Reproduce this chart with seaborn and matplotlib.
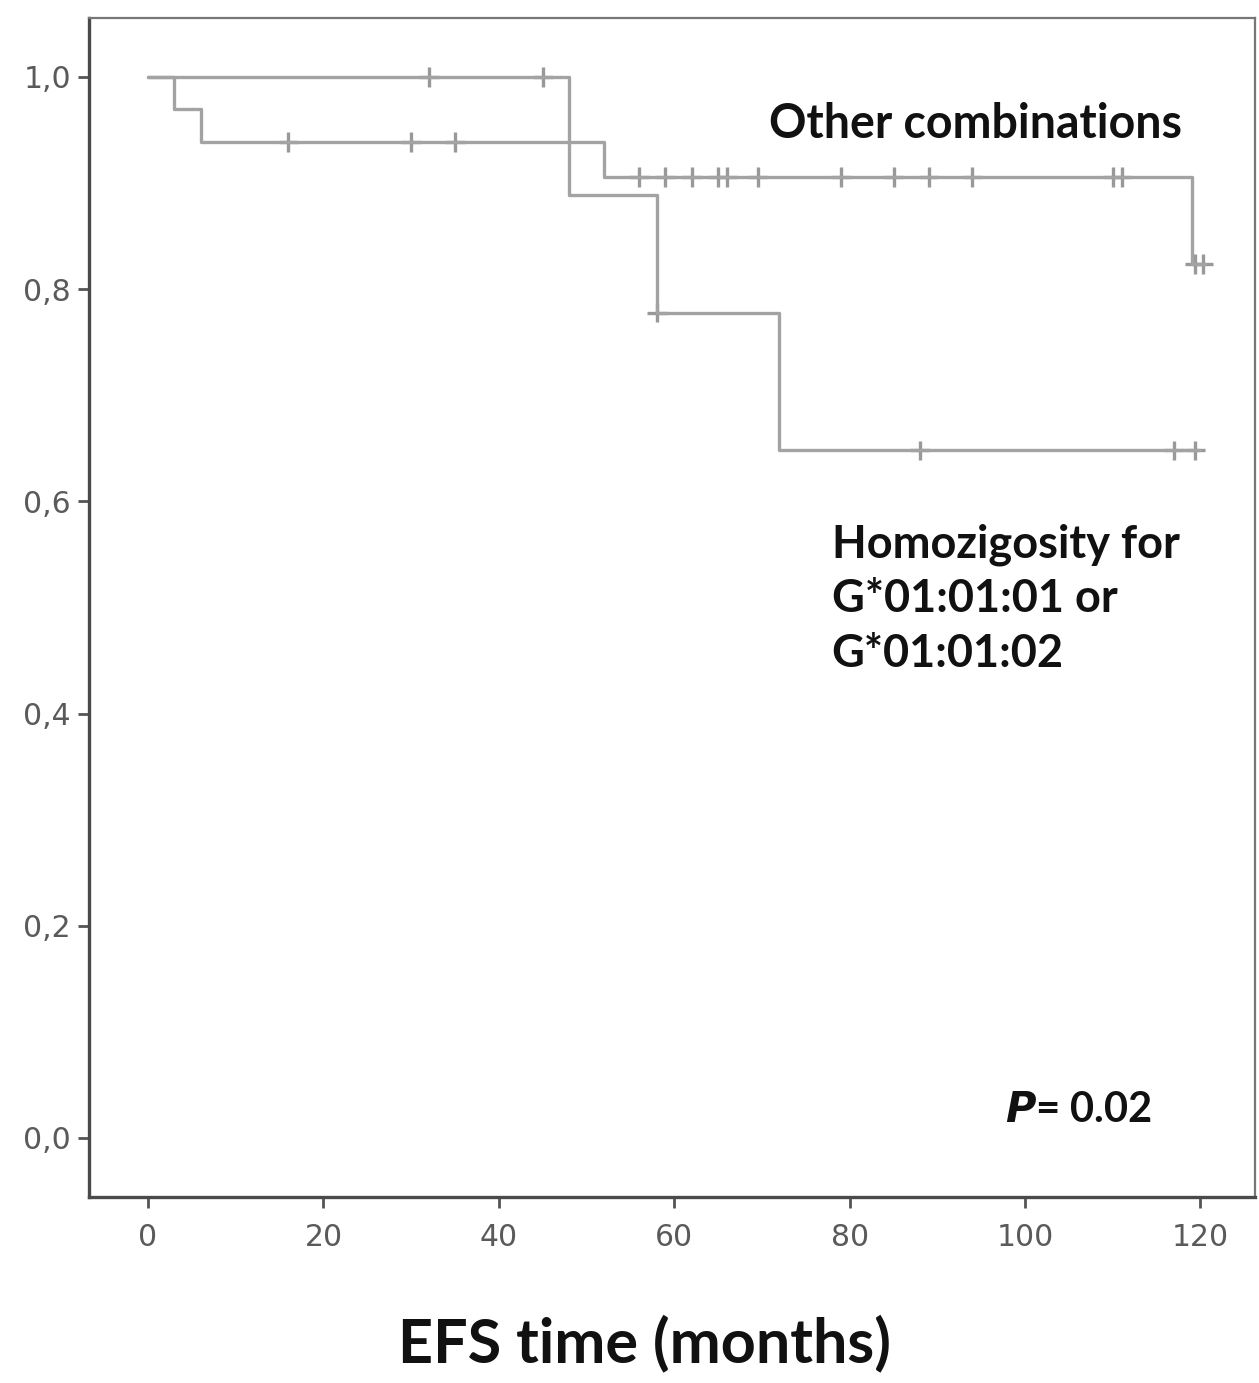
import matplotlib
matplotlib.use("Agg")
import matplotlib.pyplot as plt
import seaborn as sns
import pandas as pd

# ---- data ----
other_time = [0, 3, 6, 52, 119, 120.5]
other_surv = [1.0, 0.970, 0.939, 0.906, 0.824, 0.824]
other_cens_time = [16, 30, 35, 56, 59, 62, 65, 66, 69.5, 79, 85, 89, 94, 110, 111, 119.4, 120.3]
other_cens_surv = [0.939, 0.939, 0.939] + [0.906] * 12 + [0.824, 0.824]

hmz_time = [0, 48, 58, 72, 120]
hmz_surv = [1.0, 0.889, 0.778, 0.648, 0.648]
hmz_cens_time = [32, 45, 58, 88, 117, 119.4]
hmz_cens_surv = [1.0, 1.0, 0.778, 0.648, 0.648, 0.648]

x_ticks = [0, 20, 40, 60, 80, 100, 120]
y_ticks = [0.0, 0.2, 0.4, 0.6, 0.8, 1.0]
y_tick_labels = ["0,0", "0,2", "0,4", "0,6", "0,8", "1,0"]

curves = pd.DataFrame({
    "time": other_time + hmz_time,
    "surv": other_surv + hmz_surv,
    "group": ["Other"] * len(other_time) + ["Homo"] * len(hmz_time),
})
cens = pd.DataFrame({
    "time": other_cens_time + hmz_cens_time,
    "surv": other_cens_surv + hmz_cens_surv,
    "group": ["Other"] * len(other_cens_time) + ["Homo"] * len(hmz_cens_time),
})

sns.set_theme(style="white")
plt.rcParams["font.family"] = ["DejaVu Sans"]

fig = plt.figure(figsize=(12.59, 13.83), dpi=100)
ax = fig.add_axes([0.0707, 0.1345, 0.926, 0.8525])

line_col = "#a3a3a3"
pal = {"Other": line_col, "Homo": line_col}
sns.lineplot(data=curves, x="time", y="surv", hue="group", palette=pal,
             estimator=None, sort=False, drawstyle="steps-post",
             linewidth=2.4, legend=False, ax=ax)
sns.scatterplot(data=cens, x="time", y="surv", hue="group", palette=["#999999", "#999999"],
                marker="+", s=200, linewidth=2.4, legend=False, ax=ax)

ax.set_xlim(-6.73, 126.2)
ax.set_ylim(-0.0556, 1.0556)
ax.set_xticks(x_ticks)
ax.set_xticklabels([str(t) for t in x_ticks])
ax.set_yticks(y_ticks)
ax.set_yticklabels(y_tick_labels)
ax.tick_params(axis="both", which="major", direction="out", length=8, width=2,
               color="#555555", labelcolor="#5a5a5a", labelsize=21.5,
               bottom=True, left=True)
ax.tick_params(axis="x", pad=11)
ax.tick_params(axis="y", pad=5)
ax.set_ylabel("")
ax.set_xlabel("")

for side in ["left", "bottom"]:
    ax.spines[side].set_color("#4a4a4a")
    ax.spines[side].set_linewidth(2.4)
for side in ["top", "right"]:
    ax.spines[side].set_color("#777777")
    ax.spines[side].set_linewidth(1.6)

fig.text(645 / 1259, 1 - 1343 / 1383, "EFS time (months)", fontsize=44, fontweight="bold",
         family=["Lato", "DejaVu Sans"], color="#111111", ha="center", va="center")

txt = dict(fontweight="bold", family=["Lato", "DejaVu Sans"], color="#111111")
ax.text(0.583, 0.910, "Other combinations", transform=ax.transAxes, ha="left", va="center",
        fontsize=33.5, **txt)
ax.text(0.637, 0.507, "Homozigosity for\nG*01:01:01 or\nG*01:01:02", transform=ax.transAxes,
        ha="left", va="center", linespacing=1.36, fontsize=32.5, **txt)
ax.text(0.786, 0.074, r"$\bfit{P}$= 0.02", transform=ax.transAxes, ha="left", va="center",
        fontsize=30, **txt)

fig.savefig("out.png", dpi=100)
